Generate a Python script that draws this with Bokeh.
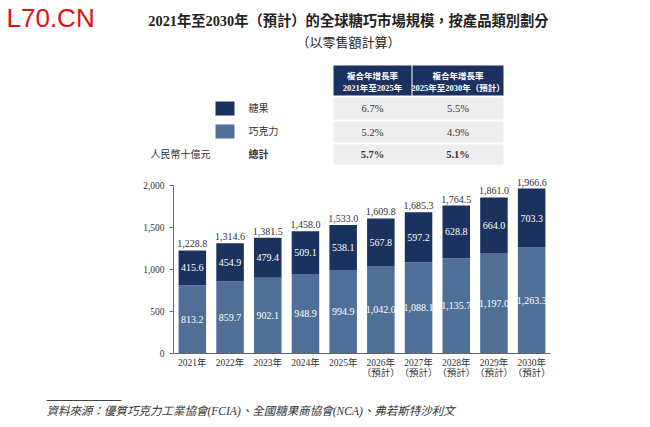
from bokeh.plotting import figure
from bokeh.models import Range1d, FactorRange, ColumnDataSource, FixedTicker, NumeralTickFormatter
from bokeh.layouts import column
from bokeh.embed import file_html
from bokeh.resources import INLINE
from bokeh.core.properties import value

# ---------------- data ----------------
years = ["2021年", "2022年", "2023年", "2024年", "2025年",
         "2026年\n（預計）", "2027年\n（預計）", "2028年\n（預計）", "2029年\n（預計）", "2030年\n（預計）"]
chocolate = [813.2, 859.7, 902.1, 948.9, 994.9, 1042.0, 1088.1, 1135.7, 1197.0, 1263.3]
candy = [415.6, 454.9, 479.4, 509.1, 538.1, 567.8, 597.2, 628.8, 664.0, 703.3]
totals = [1228.8, 1314.6, 1381.5, 1458.0, 1533.0, 1609.8, 1685.3, 1764.5, 1861.0, 1966.6]
y_ticks = [0, 500, 1000, 1500, 2000]

series_names = ["糖果", "巧克力"]
cagr_header_1 = ["複合年增長率", "2021年至2025年"]
cagr_header_2 = ["複合年增長率", "2025年至2030年（預計）"]
cagr_2021_2025 = ["6.7%", "5.2%", "5.7%"]
cagr_2025_2030 = ["5.5%", "4.9%", "5.1%"]
total_label = "總計"
unit_label = "人民幣十億元"

title_1 = "2021年至2030年（預計）的全球糖巧市場規模，按產品類別劃分"
title_2 = "（以零售額計算）"
source_text = "資料來源：優質巧克力工業協會(FCIA)、全國糖果商協會(NCA)、弗若斯特沙利文"
logo_text = "L70.CN"

# ---------------- style ----------------
NAVY = "#1b325f"
STEEL = "#4f6f96"
HEAD = "#1b3261"
ROWBG = "#eeeeee"
TXT = "#333333"
SERIF = "Liberation Serif, Noto Sans CJK TC"
W = 650


def blank(h):
    f = figure(width=W, height=h, x_range=Range1d(0, W), y_range=Range1d(h, 0),
               output_backend="svg", toolbar_location=None, min_border=0, frame_align=False)
    f.axis.visible = False
    f.grid.visible = False
    f.outline_line_color = None
    f.background_fill_color = "white"
    f.border_fill_color = "white"
    return f


# ---------------- top: title, legend, table ----------------
TOP_H = 168
top = blank(TOP_H)

top.text(x=[6], y=[17], text=[logo_text], text_font=value("Liberation Sans"),
         text_font_size="26px", text_color="#dd1111", text_baseline="middle")
top.text(x=[348], y=[20], text=[title_1], text_font=value(SERIF), text_font_size="14.3px",
         text_font_style="bold", text_color="#222222", text_align="center", text_baseline="middle")
top.text(x=[348], y=[42], text=[title_2], text_font=value(SERIF), text_font_size="13px",
         text_color="#222222", text_align="center", text_baseline="middle")

# table header
top.quad(left=[333, 412], right=[411, 503], top=[65, 65], bottom=[95, 95],
         fill_color=HEAD, line_color=None)
for cx, hdr in ((372, cagr_header_1), (457.5, cagr_header_2)):
    top.text(x=[cx, cx], y=[75, 87], text=hdr, text_font=value(SERIF), text_font_size="8.5px",
             text_font_style="bold", text_color="white", text_align="center", text_baseline="middle")

# table rows
row_top = [97, 121, 144]
row_bot = [119, 142, 164]
top.quad(left=[333] * 3, right=[503] * 3, top=row_top, bottom=row_bot,
         fill_color=ROWBG, line_color=None)
row_mid = [(a + b) / 2 for a, b in zip(row_top, row_bot)]
for i in range(3):
    style = "bold" if i == 2 else "normal"
    top.text(x=[372, 457.5], y=[row_mid[i]] * 2, text=[cagr_2021_2025[i], cagr_2025_2030[i]],
             text_font=value(SERIF), text_font_size="10.5px", text_font_style=style,
             text_color=TXT, text_align="center", text_baseline="middle")

# legend
top.quad(left=[215, 215], right=[234, 234], top=[101, 124], bottom=[115, 138],
         fill_color=[NAVY, STEEL], line_color=None)
top.text(x=[248, 248], y=[108, 131], text=series_names, text_font=value(SERIF),
         text_font_size="10px", text_color=TXT, text_baseline="middle")
top.text(x=[248], y=[153.5], text=[total_label], text_font=value(SERIF), text_font_size="10px",
         text_font_style="bold", text_color=TXT, text_baseline="middle")
top.text(x=[150], y=[153.5], text=[unit_label], text_font=value(SERIF), text_font_size="10px",
         text_color=TXT, text_baseline="middle")

# ---------------- chart ----------------
src = ColumnDataSource(dict(
    year=years, chocolate=chocolate, candy=candy, total=totals,
    choc_mid=[c / 2 for c in chocolate],
    candy_mid=[c + k / 2 for c, k in zip(chocolate, candy)],
    choc_lbl=[f"{v:,.1f}" for v in chocolate],
    candy_lbl=[f"{v:,.1f}" for v in candy],
    total_lbl=[f"{v:,.1f}" for v in totals],
))

CH_H = 222
p = figure(width=W, height=CH_H, x_range=FactorRange(*years, range_padding=0),
           y_range=Range1d(0, 2182), output_backend="svg", toolbar_location=None,
           min_border_left=173, min_border_right=100, min_border_top=2, min_border_bottom=37,
           frame_align=False)
p.outline_line_color = None
p.grid.visible = False

p.vbar_stack(["chocolate", "candy"], x="year", width=0.73, color=[STEEL, NAVY],
             line_color=None, source=src)

p.text(x="year", y="choc_mid", text="choc_lbl", source=src, text_font=value(SERIF),
       text_font_size="10px", text_color="white", text_align="center", text_baseline="middle")
p.text(x="year", y="candy_mid", text="candy_lbl", source=src, text_font=value(SERIF),
       text_font_size="10px", text_color="white", text_align="center", text_baseline="middle")
p.text(x="year", y="total", text="total_lbl", source=src, text_font=value(SERIF),
       text_font_size="10px", text_color=TXT, text_align="center", text_baseline="bottom",
       y_offset=-3)

p.yaxis.ticker = FixedTicker(ticks=y_ticks)
p.yaxis.formatter = NumeralTickFormatter(format="0,0")
p.yaxis.bounds = (0, 2000)
p.yaxis.minor_tick_line_color = None
p.yaxis.major_tick_out = 4
p.yaxis.major_tick_in = 0
p.yaxis.major_label_standoff = 5
for ax in (p.xaxis, p.yaxis):
    ax.axis_line_color = "#666666"
    ax.major_tick_line_color = "#666666"
    ax.major_label_text_font = SERIF
    ax.major_label_text_font_size = "9.5px"
    ax.major_label_text_color = TXT
p.xaxis.major_tick_line_color = None
p.xaxis.major_tick_out = 0
p.xaxis.major_label_standoff = 4
p.xaxis.major_label_text_line_height = 1.0

# ---------------- footer ----------------
FT_H = 37
foot = blank(FT_H)
foot.segment(x0=[46], y0=[10], x1=[121], y1=[10], line_color="#444444", line_width=1)
foot.text(x=[46], y=[20], text=[source_text], text_font=value(SERIF), text_font_size="11.5px",
          text_font_style="italic", text_color=TXT, text_baseline="middle")

layout = column(top, p, foot, spacing=0)
open("out.html", "w").write(file_html(layout, INLINE))
